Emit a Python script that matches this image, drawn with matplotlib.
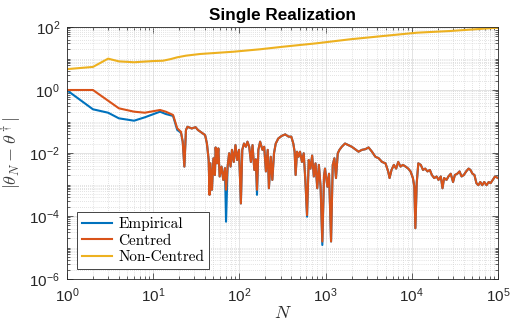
import numpy as np
import matplotlib.pyplot as plt
from matplotlib.ticker import LogLocator, NullFormatter

plt.rcParams['font.family'] = ['Liberation Sans', 'DejaVu Sans']
plt.rcParams['mathtext.fontset'] = 'cm'

# Non-Centred estimator (smooth, growing)
n_noncentred = [1, 2, 3, 4, 6, 10, 13, 16, 19, 24, 35, 85, 173, 323, 788,
                1920, 4670, 11400, 27700, 100000]
err_noncentred = [4.6, 5.4, 9.9, 8.1, 7.6, 8.3, 8.5, 9.6, 10.9, 12.3, 13.9,
                  16.4, 19.6, 23.7, 30.4, 40.7, 51.8, 65.9, 74.6, 95]

# start of the run, where empirical and centred still differ
n_head_centred = [1, 2, 4, 6, 8, 12, 14, 17, 19, 21]
err_head_centred = [1.0, 1.0, 0.262, 0.205, 0.19, 0.232, 0.205, 0.161, 0.061, 0.047]
n_head_empirical = [1, 2, 3, 4, 6, 8, 12, 14, 17, 19, 21]
err_head_empirical = [0.98, 0.244, 0.19, 0.126, 0.106, 0.136, 0.205, 0.173, 0.15,
                      0.054, 0.044]

# rest of the run (both curves lie on top of each other)
n_tail = [22, 23, 24, 25, 28, 31, 33, 37, 40, 42,
          44, 45, 46, 48, 50, 52, 53, 55, 57, 59,
          62, 65, 68, 70, 73, 76, 79, 82, 86, 90,
          94, 99, 104, 108, 113, 119, 124, 130, 136, 142,
          149, 155, 160, 166, 174, 185, 194, 203, 213, 220,
          231, 241, 252, 264, 283, 310, 340, 372, 400, 422,
          437, 449, 466, 486, 505, 532, 557, 582, 609, 637,
          667, 698, 730, 764, 800, 836, 875, 916, 958, 984,
          1049, 1096, 1157, 1210, 1265, 1320, 1384, 1448, 1540, 1680,
          1840, 2010, 2200, 2410, 2640, 2890, 3150, 3450, 3780, 4130,
          4520, 4950, 5320, 5520, 5820, 6190, 6580, 6960, 7400, 7890,
          8470, 9090, 9670, 10300, 10700, 11000, 11400, 11900, 12700, 13500,
          14300, 15200, 16200, 17100, 18200, 19400, 20400, 21700, 22700, 23700,
          25300, 26600, 28300, 30100, 31600, 33700, 35800, 37800, 40100, 42700,
          45600, 47900, 50600, 53300, 56200, 59200, 62300, 65700, 69200, 73600,
          78000, 82000, 87000, 92300, 100000]
err_tail = [0.0229, 0.0037, 0.054, 0.068, 0.060, 0.066, 0.054, 0.043, 0.037, 0.020,
            0.0060, 0.00047, 0.0047, 0.00068, 0.0068, 0.0020, 0.015, 0.0047, 0.014, 0.0018,
            0.0037, 0.0014, 0.0033, 0.00068, 0.0037, 0.0098, 0.0037, 0.0126, 0.0052, 0.0178,
            0.0060, 0.0126, 0.00025, 0.0126, 0.020, 0.0158, 0.0229, 0.0158, 0.0052, 0.0178,
            0.0029, 0.0063, 0.00068, 0.0126, 0.0229, 0.0126, 0.0158, 0.0026, 0.0126, 0.00076,
            0.0076, 0.0014, 0.0098, 0.020, 0.029, 0.035, 0.039, 0.033, 0.033, 0.020,
            0.011, 0.0020, 0.011, 0.0076, 0.011, 0.0052, 0.0098, 0.0014, 0.000107, 0.0060,
            0.0032, 0.0083, 0.0018, 0.0047, 0.00076, 0.0042, 0.00085, 1.55e-5, 0.0018, 0.0032,
            0.00085, 0.0022, 1.55e-5, 0.0042, 0.0068, 0.0016, 0.0098, 0.0126, 0.0158, 0.020,
            0.0178, 0.0158, 0.0132, 0.011, 0.0126, 0.0132, 0.015, 0.011, 0.0076, 0.0068,
            0.0052, 0.0047, 0.0026, 0.0016, 0.0029, 0.0042, 0.0032, 0.0052, 0.0037, 0.0042,
            0.0037, 0.0032, 0.0026, 0.0016, 0.00085, 4.1e-5, 0.0011, 0.0047, 0.0042, 0.0029,
            0.0032, 0.0026, 0.0029, 0.0020, 0.0016, 0.0018, 0.0014, 0.0018, 0.00076, 0.0016,
            0.0014, 0.0018, 0.0022, 0.0012, 0.0020, 0.0022, 0.0026, 0.0018, 0.0020, 0.0026,
            0.0032, 0.0029, 0.0022, 0.0020, 0.0011, 0.00095, 0.0012, 0.00095, 0.0012, 0.00095,
            0.0012, 0.0011, 0.0014, 0.0018, 0.0016]

# places where the empirical error dips deeper than the centred one
emp_dip_n = [70, 160, 609, 916]
emp_dip_err = [6.6e-5, 4.7e-4, 9.5e-5, 1.2e-5]

n_centred = n_head_centred + n_tail
err_centred = err_head_centred + err_tail
tail_emp = list(err_tail)
for n, e in zip(emp_dip_n, emp_dip_err):
    tail_emp[n_tail.index(n)] = e
n_empirical = n_head_empirical + n_tail
err_empirical = err_head_empirical + tail_emp

fig = plt.figure(figsize=(5.11, 3.25), dpi=100)
ax = fig.add_axes([67 / 511, 1 - 279 / 325, 431 / 511, 252 / 325])

ax.loglog(n_empirical, err_empirical, color='#0072BD', lw=1.5, label='Empirical')
ax.loglog(n_centred, err_centred, color='#D95319', lw=1.5, label='Centred')
ax.loglog(n_noncentred, err_noncentred, color='#EDB120', lw=1.5, label='Non-Centred')

ax.set_xlim(1, 1e5)
ax.set_ylim(1e-6, 1e2)
ax.yaxis.set_major_locator(LogLocator(base=100, numticks=10))
ax.yaxis.set_minor_locator(LogLocator(base=10, subs=np.arange(1, 10), numticks=20))
ax.xaxis.set_minor_locator(LogLocator(base=10, subs=np.arange(2, 10), numticks=20))
ax.yaxis.set_minor_formatter(NullFormatter())
ax.xaxis.set_minor_formatter(NullFormatter())

ax.set_axisbelow(True)
ax.grid(True, which='major', color='#dedede', lw=0.6, ls='-')
ax.grid(True, which='minor', color='#c8c8c8', lw=0.5, ls=(0, (1, 2)))

for s in ax.spines.values():
    s.set_color('#262626')
    s.set_linewidth(0.6)
ax.tick_params(which='both', direction='in', top=True, right=True,
               colors='#262626', labelsize=11, width=0.5)
ax.tick_params(which='major', length=4, pad=5)
ax.tick_params(which='minor', length=2)

ax.set_title('Single Realization', fontsize=12.3, fontweight='bold', pad=5)
ax.set_xlabel(r'$N$', fontsize=13, color='#262626', labelpad=0)
ax.set_ylabel(r'$|\theta_N - \theta^\dagger|$', fontsize=13, color='#404040', labelpad=4)

leg = ax.legend(loc='lower left', prop={'family': 'cmr10', 'size': 11},
                fancybox=False, framealpha=1, edgecolor='#262626',
                borderaxespad=0.65, borderpad=0.3, labelspacing=0.2,
                handlelength=2.0, handletextpad=0.4)
leg.get_frame().set_linewidth(0.6)

fig.savefig('out.png', dpi=100)
